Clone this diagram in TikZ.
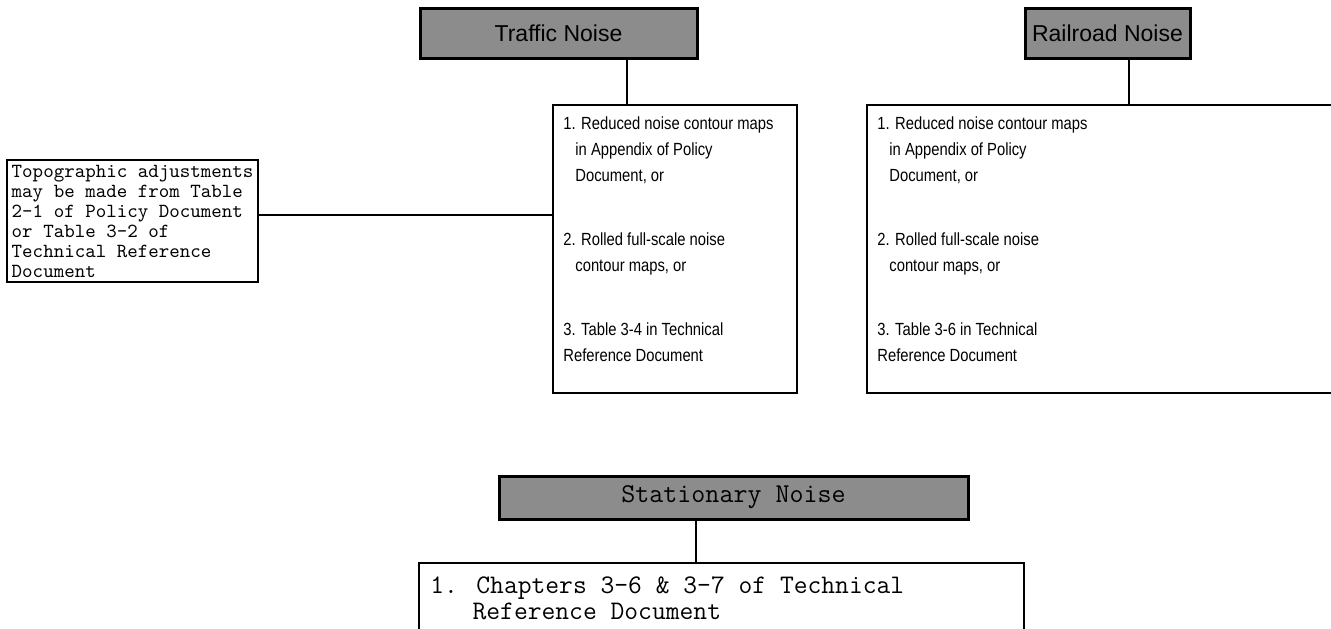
\documentclass[tikz,border=0pt]{standalone}
\usepackage{fontspec}
\setsansfont{Liberation Sans}
\newfontfamily\listsf[FakeStretch=0.84]{Liberation Sans}
\usetikzlibrary{positioning}

\tikzset{
  head/.style={draw, line width=1.5pt, fill=black!45, inner sep=0pt},
  listbox/.style={draw, line width=1pt, inner sep=0pt},
  sfitem/.style={anchor=north west, inner sep=0pt, align=left,
    font=\listsf\fontsize{8.8}{13}\selectfont},
  ttitem/.style={anchor=north west, inner sep=0pt, align=left,
    font=\ttfamily\fontsize{13.4}{13.4}\selectfont}
}

\begin{document}
\begin{tikzpicture}[x=0.5pt, y=-0.5pt]
  \useasboundingbox (0,0) rectangle (1331,628);
  % headings
  \path
  node[head, minimum width=138.5pt, minimum height=25pt,
       font=\sffamily\fontsize{11.5}{14}\selectfont] (traffic) at (558.5,33) {Traffic Noise}
  node[head, minimum width=82.5pt, minimum height=25pt,
       font=\sffamily\fontsize{11.5}{14}\selectfont] (railroad) at (1107.5,33) {Railroad Noise}
  node[head, minimum width=234.5pt, minimum height=21.5pt,
       font=\ttfamily\fontsize{13.6}{14}\selectfont] (stationary) at (733.5,497.5) {Stationary Noise}
  ;
  % boxes
  \path
  node[listbox, minimum width=122pt, minimum height=144pt] (tbox) at (675,249) {}
  node[listbox, minimum width=239pt, minimum height=144pt] (rbox) at (1106,249) {}
  node[listbox, minimum width=302.5pt, minimum height=48.5pt] (sbox) at (721.5,611.5) {}
  node[listbox, minimum width=125.5pt, minimum height=61pt, align=left,
       font=\ttfamily\fontsize{10}{10}\selectfont] (topo) at (132.5,221)
       {Topographic adjustments\\ may be made from Table\\ 2-1 of Policy Document\\
        or Table 3-2 of\\ Technical Reference\\ Document}
  ;
  % box texts
  \path
  node[sfitem] (tlist) at (563,116)
       {1. Reduced noise contour maps\\ \hspace*{6pt}in Appendix of Policy\\
        \hspace*{6pt}Document, or\\[19pt] 2. Rolled full-scale noise\\
        \hspace*{6pt}contour maps, or\\[19pt] 3. Table 3-4 in Technical\\ Reference Document}
  node[sfitem] (rlist) at (877,116)
       {1. Reduced noise contour maps\\ \hspace*{6pt}in Appendix of Policy\\
        \hspace*{6pt}Document, or\\[19pt] 2. Rolled full-scale noise\\
        \hspace*{6pt}contour maps, or\\[19pt] 3. Table 3-6 in Technical\\ Reference Document}
  node[ttitem] (slist) at (430,576)
       {1. Chapters 3-6 \& 3-7 of Technical\\ \hspace*{1.575em}Reference Document}
  ;
  % connectors
  \coordinate (tj) at (627,0);
  \coordinate (rj) at (1129,0);
  \coordinate (sj) at (696,0);
  \coordinate (lj) at (0,215);
  \path[draw, line width=1pt]
  (traffic.south -| tj) -- (tbox.north -| tj)
  (railroad.south -| rj) -- (rbox.north -| rj)
  (stationary.south -| sj) -- (sbox.north -| sj)
  (topo.east |- lj) -- (tbox.west |- lj)
  ;
\end{tikzpicture}
\end{document}
